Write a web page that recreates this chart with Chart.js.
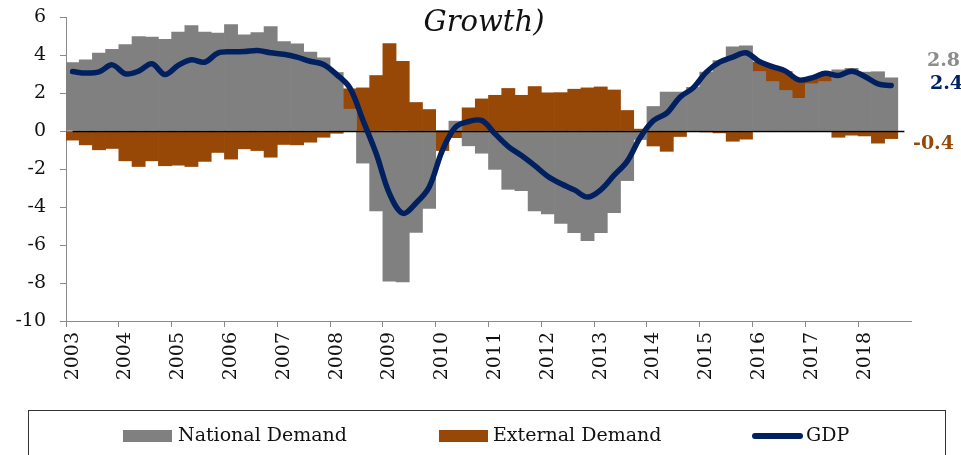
<!DOCTYPE html>
<html>
<head>
<meta charset="utf-8">
<script src="https://cdn.jsdelivr.net/npm/chart.js@4.4.1/dist/chart.umd.min.js"></script>
<style>
  html, body { margin: 0; padding: 0; background: #fff; }
  #wrap { width: 961px; height: 455px; position: relative; }
</style>
</head>
<body>
<div id="wrap"><canvas id="c" width="961" height="455"></canvas></div>
<script>
// ---- data ----
const years = [2003,2004,2005,2006,2007,2008,2009,2010,2011,2012,2013,2014,2015,2016,2017,2018];
const quarters = years.flatMap(y => ['Q1','Q2','Q3','Q4'].map(q => y + q));
const titleText = 'Growth)';
const seriesNames = ['National Demand', 'External Demand', 'GDP'];

const nationalDemand = [
  3.6, 3.75, 4.1, 4.3,  4.55, 4.97, 4.94, 4.83,  5.2, 5.55, 5.2, 5.15,  5.6, 5.06, 5.18, 5.5,
  4.71, 4.59, 4.15, 3.85,  3.08, 1.15, -1.69, -4.2,  -7.9, -7.94, -5.34, -4.08,  0.02, 0.52, -0.78, -1.17,
  -2.02, -3.07, -3.14, -4.2,  -4.37, -4.86, -5.35, -5.77,  -5.35, -4.3, -2.61, -0.45,  1.29, 2.05, 2.05, 2.3,
  3.1, 3.7, 4.43, 4.48,  3.13, 2.6, 2.13, 1.72,  2.49, 2.6, 3.22, 3.3,  3.1, 3.12, 2.8
];
const externalDemand = [
  -0.48, -0.73, -0.99, -0.92,  -1.57, -1.87, -1.57, -1.83,  -1.8, -1.87, -1.6, -1.13,  -1.48, -0.94, -1.03, -1.38,
  -0.71, -0.73, -0.59, -0.33,  -0.12, 1.07, 2.27, 2.92,  4.6, 3.67, 1.5, 1.13,  -1.03, -0.35, 1.22, 1.69,
  1.88, 2.24, 1.88, 2.34,  2.01, 2.02, 2.2, 2.27,  2.32, 2.16, 1.08, 0.1,  -0.79, -1.07, -0.29, -0.02,
  -0.05, -0.1, -0.54, -0.43,  0.5, 0.75, 1.0, 0.97,  0.3, 0.45, -0.33, -0.22,  -0.26, -0.64, -0.4
];
const gdp = [
  3.13, 3.05, 3.11, 3.48,  3.01, 3.15, 3.54, 2.97,  3.45, 3.75, 3.62, 4.1,  4.17, 4.18, 4.24, 4.12,
  4.04, 3.89, 3.67, 3.5,  2.97, 2.27, 0.55, -1.2,  -3.3, -4.33, -3.8, -2.96,  -1.03, 0.2, 0.5, 0.55,
  -0.15, -0.82, -1.29, -1.82,  -2.39, -2.78, -3.1, -3.48,  -3.1, -2.34, -1.6, -0.33,  0.55, 0.94, 1.78, 2.27,
  3.1, 3.62, 3.89, 4.12,  3.66, 3.39, 3.15, 2.69,  2.8, 3.04, 2.92, 3.15,  2.87, 2.48, 2.39
];
const endLabels = ['2.8', '2.4', '-0.4'];
const yTicks = [6, 4, 2, 0, -2, -4, -6, -8, -10];

// ---- styles ----
const GRAY = '#808080', ORANGE = '#974806', NAVY = '#002060';
const FONT = '"DejaVu Serif", "Liberation Serif", serif';

const zeroLinePlugin = {
  id: 'zeroLine',
  beforeDatasetDraw(chart, args) {
    if (args.index !== 2) return;
    const x = chart.scales.x, y = chart.scales.y, ctx = chart.ctx;
    const yy = Math.round(y.getPixelForValue(0)) + 0.5;
    ctx.save();
    ctx.strokeStyle = '#000';
    ctx.lineWidth = 1.3;
    ctx.beginPath();
    ctx.moveTo(x.getPixelForValue(0), yy);
    ctx.lineTo(x.getPixelForValue(quarters.length - 1), yy);
    ctx.stroke();
    ctx.restore();
  }
};

const decorPlugin = {
  id: 'decor',
  afterDraw(chart) {
    const ctx = chart.ctx, y = chart.scales.y;
    ctx.save();
    // title (second line visible)
    ctx.font = 'italic 29px ' + FONT;
    ctx.fillStyle = '#111';
    ctx.textAlign = 'center';
    ctx.textBaseline = 'alphabetic';
    ctx.fillText(titleText, 484, 31);

    // end labels
    ctx.font = 'bold 19px ' + FONT;
    ctx.textAlign = 'left';
    ctx.textBaseline = 'middle';
    const n = nationalDemand.length - 1;
    ctx.fillStyle = '#8c8c8c';
    ctx.fillText(endLabels[0], 927, y.getPixelForValue(nationalDemand[n]) - 17);
    ctx.fillStyle = NAVY;
    ctx.fillText(endLabels[1], 930, y.getPixelForValue(gdp[n]) - 2);
    ctx.fillStyle = ORANGE;
    ctx.fillText(endLabels[2], 913, y.getPixelForValue(externalDemand[n]) + 5);

    // legend box
    ctx.strokeStyle = '#333';
    ctx.lineWidth = 1;
    ctx.strokeRect(28.5, 410.5, 917, 60);
    const ly = 436;
    ctx.font = '19px ' + FONT;
    ctx.fillStyle = GRAY;
    ctx.fillRect(123, 430, 49, 12);
    ctx.fillStyle = ORANGE;
    ctx.fillRect(439, 430, 49, 12);
    ctx.strokeStyle = NAVY;
    ctx.lineWidth = 6;
    ctx.lineCap = 'round';
    ctx.beginPath();
    ctx.moveTo(755, ly); ctx.lineTo(800, ly);
    ctx.stroke();
    ctx.fillStyle = '#111';
    ctx.fillText(seriesNames[0], 178, ly);
    ctx.fillText(seriesNames[1], 493, ly);
    ctx.fillText(seriesNames[2], 806, ly);
    ctx.restore();
  }
};

new Chart(document.getElementById('c'), {
  data: {
    labels: quarters,
    datasets: [
      { type: 'bar', label: seriesNames[0], data: nationalDemand, backgroundColor: GRAY,
        borderWidth: 0, barPercentage: 1, categoryPercentage: 1, order: 1, stack: 'demand' },
      { type: 'bar', label: seriesNames[1], data: externalDemand, backgroundColor: ORANGE,
        borderWidth: 0, barPercentage: 1, categoryPercentage: 1, order: 2, stack: 'demand' },
      { type: 'line', label: seriesNames[2], data: gdp, borderColor: NAVY, borderWidth: 5.5,
        pointRadius: 0, tension: 0.35, order: 0, stack: 'gdp', borderCapStyle: 'round', borderJoinStyle: 'round' }
    ]
  },
  options: {
    responsive: false,
    animation: false,
    layout: { padding: { top: 17, right: 50, bottom: 64, left: 0 } },
    plugins: { legend: { display: false }, tooltip: { enabled: false }, title: { display: false } },
    scales: {
      x: {
        stacked: true,
        offset: true,
        afterFit(s) { s.height = 70; },
        border: { display: true, color: '#8a8a8a', width: 1 },
        grid: {
          offset: true,
          drawOnChartArea: false,
          drawTicks: true,
          tickLength: 6,
          color: c => (c.index % 4 === 0 ? '#8a8a8a' : 'rgba(0,0,0,0)')
        },
        ticks: {
          autoSkip: false,
          minRotation: 90,
          maxRotation: 90,
          padding: 5,
          color: '#111',
          font: { family: FONT, size: 19 },
          callback: (v, i) => (i % 4 === 0 ? String(years[i / 4]) : '')
        }
      },
      y: {
        stacked: true,
        min: -10,
        max: 6,
        afterFit(s) { s.width = 66; s.paddingTop = 0; s.paddingBottom = 0; },
        afterBuildTicks(s) { s.ticks = yTicks.map(v => ({ value: v })); },
        border: { display: true, color: '#8a8a8a', width: 1 },
        grid: { drawOnChartArea: false, drawTicks: true, tickLength: 6, color: '#8a8a8a' },
        ticks: {
          padding: 14,
          color: '#111',
          font: { family: FONT, size: 19 },
          callback: v => String(v)
        }
      }
    }
  },
  plugins: [zeroLinePlugin, decorPlugin]
});
</script>
</body>
</html>
